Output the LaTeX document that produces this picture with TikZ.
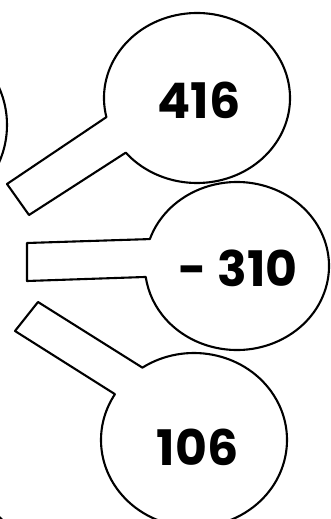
\documentclass[tikz,border=0pt]{standalone}
\usepackage{fontspec}
\setmainfont{Poppins}
\usetikzlibrary{calc}

\begin{document}
\begin{tikzpicture}[
        x=1pt, y=-1pt,
        estilo_balao/.style={draw=black, line width=2.1pt, line join=round},
        estilo_numero/.style={font=\fontsize{49}{52}\selectfont\bfseries, inner sep=0pt}
    ]
    \clip (0,0) rectangle (331,519);

    % restos dos baloes vizinhos
    \draw[estilo_balao] (-85,125) circle[radius=92];
    \draw[estilo_balao] (-66,586) circle[radius=95];

    % balao de cima
    \coordinate (c1) at (197,98);
    \draw[estilo_balao] ($(c1)+(167:93 and 85)$) arc[start angle=167, end angle=500, x radius=93, y radius=85]
        -- (29,215) -- (7,184) -- cycle;
    \node[estilo_numero] (n1) at (199,100) {416};

    % balao do meio
    \coordinate (c2) at (237,266);
    \draw[estilo_balao] ($(c2)+(198.7:92 and 84)$) arc[start angle=198.7, end angle=532.5, x radius=92, y radius=84]
        -- (27,281) -- (27,243) -- cycle;
    \node[estilo_numero] (n2) at (238,268) {- 310};

    % balao de baixo
    \coordinate (c3) at (194,440);
    \draw[estilo_balao] ($(c3)+(236.3:93 and 87)$) arc[start angle=236.3, end angle=571.8, x radius=93, y radius=87]
        -- (15,331) -- (38,302) -- cycle;
    \node[estilo_numero] (n3) at (197.5,447) {106};
\end{tikzpicture}
\end{document}
